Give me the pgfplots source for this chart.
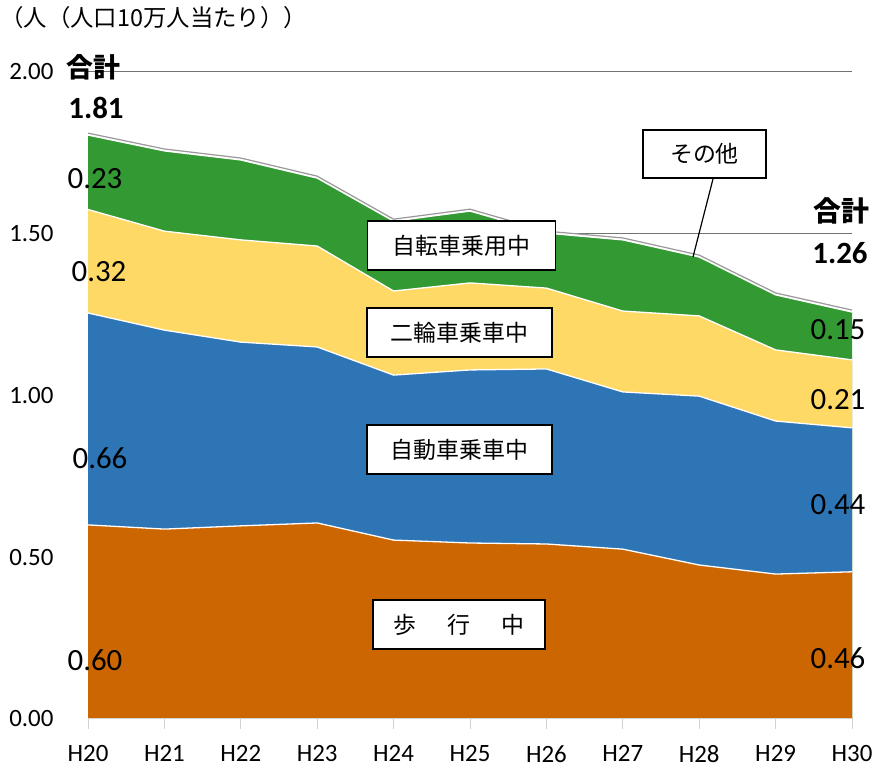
\documentclass[border=0pt]{standalone}
\usepackage{fontspec}
\usepackage{pgfplots}
\usepackage{pgfplotstable}
\pgfplotsset{compat=1.18}
\setmainfont{Carlito}
\newfontfamily\jp{Noto Sans CJK JP}

\definecolor{walk}{HTML}{CC6600}
\definecolor{car}{HTML}{2E75B6}
\definecolor{moto}{HTML}{FFD966}
\definecolor{bike}{HTML}{339933}

% per-layer values (persons per 100k population), H20..H30
\pgfplotstableread{
x  walk  car   moto  bike  other
0  0.600 0.655 0.320 0.230 0.006
1  0.587 0.615 0.306 0.248 0.006
2  0.597 0.568 0.316 0.247 0.006
3  0.606 0.544 0.312 0.210 0.006
4  0.553 0.510 0.260 0.216 0.006
5  0.544 0.535 0.269 0.222 0.006
6  0.541 0.541 0.250 0.170 0.006
7  0.525 0.486 0.250 0.220 0.006
8  0.476 0.522 0.248 0.182 0.006
9  0.448 0.473 0.220 0.170 0.006
10 0.455 0.445 0.210 0.148 0.006
}\data

\newcommand{\boxlabel}[4]{% x, y, width, text
  \node[draw=black, line width=1.5bp, fill=white, minimum width=#3bp, minimum height=49bp,
        inner sep=0pt, font=\jp\fontsize{23}{26}\selectfont] at (#1,#2) {#4};}

\begin{document}
\begin{tikzpicture}[x=1bp,y=1bp]
\useasboundingbox (0,0) rectangle (891,771);
\begin{axis}[
    at={(88bp,52bp)}, anchor=south west,
    scale only axis, width=764bp, height=647bp,
    xmin=0, xmax=10, ymin=0, ymax=2,
    axis line style={draw=none},
    xtick={0,...,10},
    xticklabels={H20,H21,H22,H23,H24,H25,H26,H27,H28,H29,H30},
    ytick={0,0.5,...,2},
    yticklabel style={/pgf/number format/fixed, /pgf/number format/fixed zerofill,
                      /pgf/number format/precision=2, xshift=-21bp},
    /pgf/number format/assume math mode=true,
    ticklabel style={font=\fontsize{25}{27}\selectfont},
    xticklabel style={yshift=-13bp},
    ymajorgrids, grid style={black!55, line width=1bp},
    xtick pos=left, tick align=outside, major tick length=10bp,
    xtick style={gray!35, line width=1bp},
    ytick style={draw=none},
  ]
  \addplot[fill=white, draw=none] table[x=x, y expr=\thisrow{walk}+\thisrow{car}+\thisrow{moto}+\thisrow{bike}+\thisrow{other}] {\data} \closedcycle;
  \addplot[fill=bike, draw=none] table[x=x, y expr=\thisrow{walk}+\thisrow{car}+\thisrow{moto}+\thisrow{bike}] {\data} \closedcycle;
  \addplot[fill=moto, draw=none] table[x=x, y expr=\thisrow{walk}+\thisrow{car}+\thisrow{moto}] {\data} \closedcycle;
  \addplot[fill=car, draw=none] table[x=x, y expr=\thisrow{walk}+\thisrow{car}] {\data} \closedcycle;
  \addplot[fill=walk, draw=none] table[x=x, y=walk] {\data} \closedcycle;
  % white boundaries between layers
  \addplot[white, line width=1.3bp, mark=none] table[x=x, y=walk] {\data};
  \addplot[white, line width=1.3bp, mark=none] table[x=x, y expr=\thisrow{walk}+\thisrow{car}] {\data};
  \addplot[white, line width=1.3bp, mark=none] table[x=x, y expr=\thisrow{walk}+\thisrow{car}+\thisrow{moto}] {\data};
  \addplot[white, line width=1.3bp, mark=none] table[x=x, y expr=\thisrow{walk}+\thisrow{car}+\thisrow{moto}+\thisrow{bike}] {\data};
  \addplot[gray!80, line width=1.2bp, mark=none] table[x=x, y expr=\thisrow{walk}+\thisrow{car}+\thisrow{moto}+\thisrow{bike}+\thisrow{other}] {\data};
\end{axis}
\draw[gray!35, line width=1bp] (88,52) -- (852,52);

% title
\node[anchor=west, inner sep=0pt, font=\jp\fontsize{23.5}{26}\selectfont] at (0,753) {（人（人口10万人当たり））};

% totals
\node[font=\jp\bfseries\fontsize{27}{30}\selectfont] at (93,704) {合計};
\node[font=\bfseries\fontsize{31}{34}\selectfont] at (96,663) {1.81};
\node[font=\jp\bfseries\fontsize{28}{30}\selectfont] at (841,560) {合計};
\node[font=\bfseries\fontsize{31}{34}\selectfont] at (840,518) {1.26};

% values
\begin{scope}[every node/.style={font=\fontsize{31}{34}\selectfont}]
  \node at (95,592) {0.23};
  \node at (99,499) {0.32};
  \node at (100,313) {0.66};
  \node at (95,111) {0.60};
  \node at (838,441) {0.15};
  \node at (838,371) {0.21};
  \node at (838,266) {0.44};
  \node at (838,113) {0.46};
\end{scope}

% category boxes
\boxlabel{461.5}{525.5}{188}{自転車乗用中}
\boxlabel{459.5}{438.5}{185}{二輪車乗車中}
\boxlabel{459.5}{321.5}{185}{自動車乗車中}
\boxlabel{459}{146.5}{172}{歩\hspace{31bp}行\hspace{31bp}中}
\draw[black, line width=1.2bp] (713,592) -- (693,514);
\node[draw=black, line width=1.5bp, fill=white, minimum width=123bp, minimum height=48bp,
      inner sep=0pt, font=\jp\fontsize{23}{26}\selectfont] at (704.5,617) {その他};
\end{tikzpicture}
\end{document}
